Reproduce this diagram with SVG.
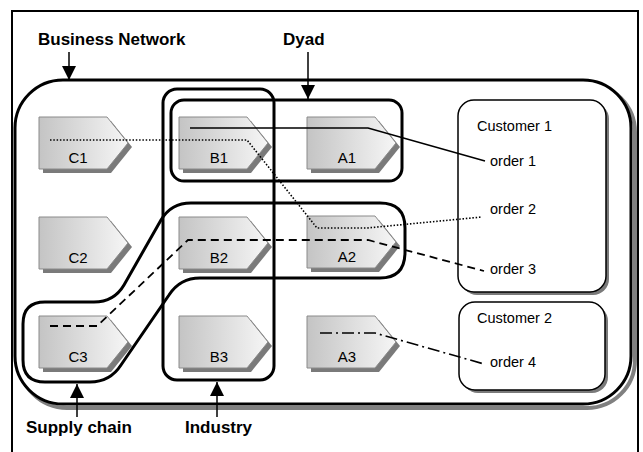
<svg xmlns="http://www.w3.org/2000/svg" width="643" height="452" viewBox="0 0 643 452">
<style>
.lbl{font-family:"Liberation Sans",Arial,sans-serif;font-size:17px;font-weight:bold;fill:#000}
.txt{font-family:"Liberation Sans",Arial,sans-serif;font-size:14.5px;fill:#000}
.nt{font-family:"Liberation Sans",Arial,sans-serif;font-size:15px;fill:#000;text-anchor:middle}
.grp{fill:none;stroke:#000;stroke-width:3}
.cust{fill:#fff;stroke:#000;stroke-width:1.5}
.sh{fill:#7a7a7a}
.nd{fill:url(#g);stroke:#8a8a8a;stroke-width:1}
.arr{stroke:#000;stroke-width:1.5}
.c{fill:none;stroke:#000}
</style>
<defs>
<linearGradient id="g" x1="0" y1="0" x2="1" y2="0">
<stop offset="0" stop-color="#c4c4c4"/>
<stop offset="1" stop-color="#f6f6f6"/>
</linearGradient>
<path id="pent" d="M0 0H68L89 26L68 52H0Z"/>
<marker id="ah" viewBox="0 0 14 14" refX="14" refY="7" markerWidth="14" markerHeight="14" markerUnits="userSpaceOnUse" orient="auto">
<path d="M0 0L14 7L0 14Z" fill="#000"/>
</marker>
</defs>
<rect width="643" height="452" fill="#fff"/>
<path d="M12 460V11H638V460" fill="none" stroke="#000" stroke-width="2"/>

<g id="business-network">
<rect x="19" y="84" width="616" height="324" rx="48" fill="none" stroke="#808080" stroke-width="4"/>
<rect x="15" y="80" width="616" height="324" rx="48" fill="#fff" stroke="#000" stroke-width="3"/>
</g>

<g id="customer1">
<rect x="461" y="103" width="148" height="192" rx="16" class="sh"/>
<rect x="458" y="100" width="148" height="192" rx="16" class="cust"/>
<text x="477" y="131" class="txt">Customer 1</text>
<text x="490" y="166" class="txt">order 1</text>
<text x="490" y="214" class="txt">order 2</text>
<text x="490" y="274" class="txt">order 3</text>
</g>
<g id="customer2">
<rect x="462" y="305" width="146" height="88" rx="16" class="sh"/>
<rect x="459" y="302" width="146" height="88" rx="16" class="cust"/>
<text x="477" y="323" class="txt">Customer 2</text>
<text x="490" y="367" class="txt">order 4</text>
</g>

<g id="C1" transform="translate(39,117)"><use href="#pent" x="4" y="4" class="sh"/><use href="#pent" class="nd"/><text x="39" y="46" class="nt">C1</text></g>
<g id="C2" transform="translate(39,217)"><use href="#pent" x="4" y="4" class="sh"/><use href="#pent" class="nd"/><text x="39" y="46" class="nt">C2</text></g>
<g id="C3" transform="translate(39,316)"><use href="#pent" x="4" y="4" class="sh"/><use href="#pent" class="nd"/><text x="39" y="46" class="nt">C3</text></g>
<g id="B1" transform="translate(179,117)"><use href="#pent" x="4" y="4" class="sh"/><use href="#pent" class="nd"/><text x="40" y="46" class="nt">B1</text></g>
<g id="B2" transform="translate(179,217)"><use href="#pent" x="4" y="4" class="sh"/><use href="#pent" class="nd"/><text x="40" y="46" class="nt">B2</text></g>
<g id="B3" transform="translate(179,316)"><use href="#pent" x="4" y="4" class="sh"/><use href="#pent" class="nd"/><text x="40" y="46" class="nt">B3</text></g>
<g id="A1" transform="translate(307,117)"><use href="#pent" x="4" y="4" class="sh"/><use href="#pent" class="nd"/><text x="40" y="46" class="nt">A1</text></g>
<g id="A2" transform="translate(307,216)"><use href="#pent" x="4" y="4" class="sh"/><use href="#pent" class="nd"/><text x="40" y="46" class="nt">A2</text></g>
<g id="A3" transform="translate(307,316)"><use href="#pent" x="4" y="4" class="sh"/><use href="#pent" class="nd"/><text x="40" y="46" class="nt">A3</text></g>

<g id="industry"><rect x="163" y="89" width="111" height="291" rx="14" class="grp"/></g>
<g id="dyad"><rect x="171" y="100" width="231" height="81" rx="13" class="grp"/></g>
<g id="supply-chain"><path d="M191 203H380Q405 203 405 228V252Q405 278 380 278H200Q180 278 169 295L121 365Q110 382 90 382H45Q23 382 23 360V324Q23 302 45 302H94Q114 302 124 285L161 220Q171 203 191 203Z" class="grp"/></g>

<g id="connectors">
<path class="c" d="M190 128H368L485 161" stroke-width="1.6"/>
<path class="c" d="M50 140H247L317 228H367L482 217" stroke-width="1.6" stroke-dasharray="1.5 1.8"/>
<path class="c" d="M50 326H97L188 240H368L484 271" stroke-width="1.8" stroke-dasharray="8 5"/>
<path class="c" d="M320 333H375L484 364" stroke-width="1.6" stroke-dasharray="12 4 2 4"/>
</g>

<g id="labels">
<text x="38" y="45" class="lbl">Business Network</text>
<line x1="69" y1="52" x2="69" y2="80" class="arr" marker-end="url(#ah)"/>
<text x="283" y="45" class="lbl">Dyad</text>
<line x1="308" y1="52" x2="308" y2="99" class="arr" marker-end="url(#ah)"/>
<text x="26" y="433" class="lbl">Supply chain</text>
<line x1="77" y1="417" x2="77" y2="384" class="arr" marker-end="url(#ah)"/>
<text x="185" y="433" class="lbl">Industry</text>
<line x1="217" y1="417" x2="217" y2="382" class="arr" marker-end="url(#ah)"/>
</g>
</svg>
